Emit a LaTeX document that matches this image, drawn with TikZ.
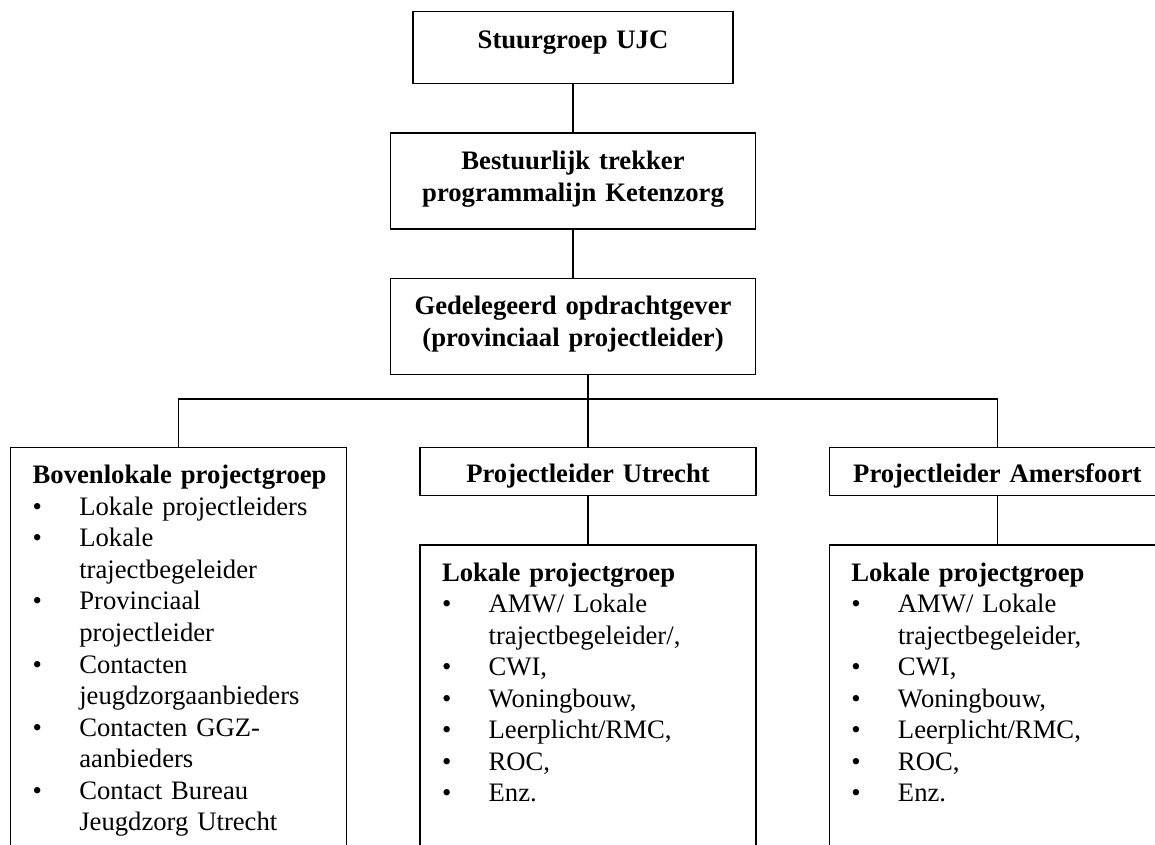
\documentclass[tikz,border=0pt]{standalone}
\usepackage{fontspec}
\setmainfont{Liberation Serif}
\usetikzlibrary{positioning}
\setlength{\parskip}{0pt}
\newcommand{\groepkop}[1]{\noindent\hspace*{9.9pt}\textbf{#1}}
\newcommand{\lijstpunt}{\par\hangindent=30.9pt\hangafter=1\noindent\hspace*{9.9pt}\makebox[21pt][l]{\textbullet}}

\begin{document}
\begin{tikzpicture}
  \tikzstyle{kopbox}=[draw,line width=0.6pt,inner sep=0pt,align=center,text width=164.25pt,
    text height=16.2pt,text depth=27pt,font=\fontsize{12pt}{14.5pt}\selectfont\bfseries]
  \tikzstyle{leiderbox}=[draw,line width=0.6pt,inner sep=0pt,align=center,text width=151.2pt,
    text height=15.75pt,text depth=5.85pt,font=\fontsize{12pt}{14.2pt}\selectfont\bfseries]
  \tikzstyle{groepbox}=[draw,line width=0.6pt,inner sep=0pt,align=left,text width=151.2pt,
    text height=16.2pt,font=\fontsize{12pt}{14.2pt}\selectfont]
  \tikzstyle{lijn}=[draw,line width=0.6pt]
  \def\rijafstand{21.6pt}
  \def\kolomafstand{32.4pt}

  \useasboundingbox (0,0) rectangle (519.75pt,-380.25pt);

  \node [kopbox,text width=144pt,text height=16.65pt,text depth=15.75pt,anchor=north]
    (stuurgroep) at (257.85pt,-4.95pt) {Stuurgroep UJC};
  \node [kopbox,below=\rijafstand of stuurgroep] (bestuurlijk) {Bestuurlijk trekker\\ programmalijn Ketenzorg};
  \node [kopbox,below=\rijafstand of bestuurlijk] (gedelegeerd) {Gedelegeerd opdrachtgever\\ (provinciaal projectleider)};

  \node [leiderbox,below=32.4pt of gedelegeerd,xshift=6.75pt] (utrecht) {Projectleider Utrecht};
  \node [leiderbox,right=\kolomafstand of utrecht.north east,anchor=north west] (amersfoort) {Projectleider Amersfoort};

  \node [groepbox,text depth=171pt,left=\kolomafstand of utrecht.north west,anchor=north east] (bovenlokale)
    {\groepkop{Bovenlokale projectgroep}
     \lijstpunt Lokale projectleiders
     \lijstpunt Lokale\newline trajectbegeleider
     \lijstpunt Provinciaal\newline projectleider
     \lijstpunt Contacten\newline jeugdzorgaanbieders
     \lijstpunt Contacten GGZ-\newline aanbieders
     \lijstpunt Contact Bureau\newline Jeugdzorg Utrecht\par};
  \node [groepbox,text depth=130.5pt,below=\rijafstand of utrecht] (lokaal-utrecht)
    {\groepkop{Lokale projectgroep}
     \lijstpunt AMW/ Lokale\newline trajectbegeleider/,
     \lijstpunt CWI,
     \lijstpunt Woningbouw,
     \lijstpunt Leerplicht/RMC,
     \lijstpunt ROC,
     \lijstpunt Enz.\par};
  \node [groepbox,text depth=130.5pt,below=\rijafstand of amersfoort] (lokaal-amersfoort)
    {\groepkop{Lokale projectgroep}
     \lijstpunt AMW/ Lokale\newline trajectbegeleider,
     \lijstpunt CWI,
     \lijstpunt Woningbouw,
     \lijstpunt Leerplicht/RMC,
     \lijstpunt ROC,
     \lijstpunt Enz.\par};

  \coordinate [below=10.8pt of gedelegeerd.south] (splitsing);

  \path [lijn] (stuurgroep) -- (bestuurlijk);
  \path [lijn] (bestuurlijk) -- (gedelegeerd);
  \path [lijn] (gedelegeerd.south -| utrecht.north) -- (utrecht.north);
  \path [lijn] (bovenlokale.north) |- (splitsing) -| (amersfoort.north);
  \path [lijn] (utrecht) -- (lokaal-utrecht);
  \path [lijn] (amersfoort) -- (lokaal-amersfoort);
\end{tikzpicture}
\end{document}
